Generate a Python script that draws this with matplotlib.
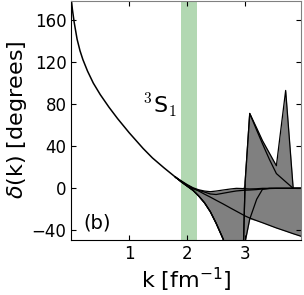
import matplotlib
matplotlib.use("Agg")
import matplotlib.pyplot as plt
import numpy as np

# shared low-k part of the phase shift (all curves coincide)
k_base = [0.00, 0.02, 0.05, 0.10, 0.15, 0.20, 0.28, 0.38, 0.50, 0.65, 0.80, 1.00, 1.24, 1.40, 1.60, 1.80]
delta_base = [180, 170, 158, 142, 131, 122.5, 111.5, 100, 89, 77, 66, 52.5, 37.5, 28.5, 19, 10]

# high-k grid where the curves diverge
k_hi = [1.80, 1.90, 2.00, 2.10, 2.20, 2.30, 2.40, 2.50, 2.62, 2.75, 2.85, 2.95, 3.00, 3.08,
        3.20, 3.30, 3.42, 3.54, 3.62, 3.70, 3.83, 3.97]
delta_flat1 = [10, 6.5, 3, 0, -2, -3.2, -3.8, -3.2, -2.2, -1.2, -0.6, -0.8, -1, -1.2,
               -1, -0.6, -0.6, -0.6, -0.6, -0.6, -0.6, -0.6]
delta_flat2 = [10, 6, 2, -1, -2.5, -4.2, -6, -6.5, -5.3, -4, -3.1, -2.6, -2.4, -2.2,
               -1.8, -1.2, -0.8, -0.6, -0.6, -0.6, -0.6, -0.6]
delta_diag = [10, 6, 2.5, -0.5, -3.2, -6.2, -9, -12, -15.5, -19.5, -22.5, -25.5, -27, -29,
              -31.5, -33.5, -36, -38.5, -40, -41.5, -44, -46.5]
delta_spike_lo = [10, 5.5, 1.5, -2.5, -8, -14.5, -23, -34, -49, -70, -85, -100, 5, 71,
                  55, 42, 27, 13.5, 9.6, 5.7, -0.6, -0.6]
delta_spike_hi = [10, 5.5, 1.5, -2.5, -8, -14.5, -23, -34, -49, -70, -85, -100, 5, 71,
                  57, 45, 33, 21, 57, 93, -0.6, -0.6]
delta_rise = [10, 5.5, 1.5, -2.5, -8, -14.5, -23, -34, -49, -70, -85, -100, -52, -30,
              -11, -1.5, -0.6, -0.6, -0.6, -0.6, -0.6, -0.6]

xticks = [1, 2, 3]
yticks = [-40, 0, 40, 80, 120, 160]

fig = plt.figure(figsize=(3.04, 2.95), dpi=100)
ax = fig.add_axes([71.3 / 304, 55 / 295, 230 / 304, 239.5 / 295])

curves = [delta_flat1, delta_flat2, delta_diag, delta_spike_lo, delta_spike_hi, delta_rise]
arr = np.array(curves, dtype=float)
ax.fill_between(k_hi, arr.min(axis=0), arr.max(axis=0), color='gray', lw=0, zorder=1)
ax.axvspan(1.9, 2.17, color='green', alpha=0.3, lw=0, zorder=1.5)

ax.plot(k_base, delta_base, color='black', lw=1.1, zorder=2)
for c in curves:
    ax.plot(k_hi, c, color='black', lw=0.9, zorder=2)

ax.set_xlim(0, 3.97)
ax.set_ylim(-50, 179)
ax.set_xticks(xticks)
ax.set_yticks(yticks)
ax.tick_params(direction='in', top=True, right=True, length=3.5, labelsize=12, width=0.8)
for s in ['left', 'bottom']:
    ax.spines[s].set_color('black')
for s in ['top', 'right']:
    ax.spines[s].set_color('0.5')

ax.set_xlabel(r'k [fm$^{-1}$]', fontsize=16, labelpad=2)
ax.set_ylabel(r'$\delta$(k) [degrees]', fontsize=16, labelpad=2)
ax.text(0.051, 0.05, '(b)', transform=ax.transAxes, fontsize=14, va='baseline', ha='left')
ax.text(1.23, 72, r'$^{3}$S$_{1}$', fontsize=16, ha='left', va='baseline', math_fontfamily='cm')

fig.savefig('out.png', dpi=100)
